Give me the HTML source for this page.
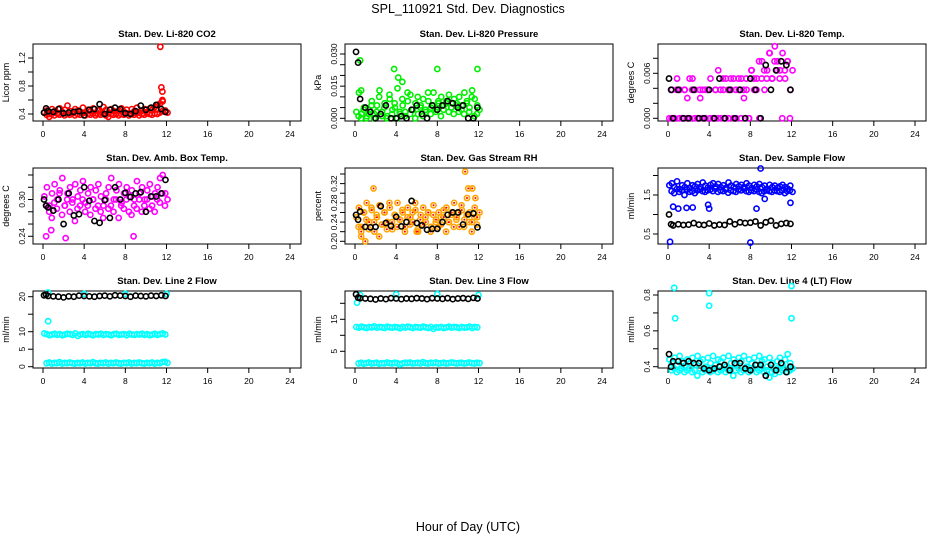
<!DOCTYPE html>
<html><head><meta charset="utf-8"><style>
body{margin:0;background:#fff}
svg{display:block;font-family:"Liberation Sans",sans-serif}
</style></head><body>
<svg id="c" width="936" height="540" viewBox="0 0 936 540">
<text x="468" y="13" text-anchor="middle" font-size="12.5">SPL_110921  Std. Dev. Diagnostics</text>
<text x="468" y="531" text-anchor="middle" font-size="12.5">Hour of Day (UTC)</text>
</svg>
<script>
const hC=[0.25,0.5,0.75,1,1.25,1.5,1.75,2,2.25,2.5,2.75,3,3.25,3.5,3.75,4,4.25,4.5,4.75,5,5.25,5.5,5.75,6,6.25,6.5,6.75,7,7.25,7.5,7.75,8,8.25,8.5,8.75,9,9.25,9.5,9.75,10,10.25,10.5,10.75,11,11.25,11.5,11.75,12];
const hK=[0.1,0.3,0.5,1,1.5,2,2.5,3,3.5,4,4.5,5,5.5,6,6.5,7,7.5,8,8.5,9,9.5,10,10.5,11,11.5,11.9];
const xTicks=[0,4,8,12,16,20,24];

const co2A=[0.42,0.45,0.40,0.47,0.44,0.41,0.48,0.43,0.46,0.52,0.44,0.41,0.47,0.45,0.43,0.49,0.42,0.46,0.44,0.48,0.41,0.45,0.43,0.50,0.46,0.42,0.47,0.44,0.40,0.45,0.48,0.43,0.46,0.41,0.47,0.44,0.49,0.42,0.45,0.47,0.43,0.48,0.46,0.50,0.53,0.55,0.58,0.45];
const co2B=[0.39,0.36,0.40,0.38,0.41,0.39,0.40,0.38,0.40,0.39,0.41,0.38,0.40,0.39,0.41,0.38,0.40,0.39,0.41,0.38,0.40,0.39,0.41,0.38,0.36,0.40,0.39,0.41,0.38,0.40,0.39,0.41,0.38,0.40,0.39,0.41,0.38,0.40,0.39,0.41,0.40,0.39,0.41,0.40,0.42,0.44,0.43,0.42];
const co2OutH=[11.4,11.5,11.6,11.6];
const co2OutV=[1.36,0.78,0.72,0.6];
const co2K=[0.42,0.48,0.44,0.43,0.47,0.41,0.42,0.43,0.44,0.38,0.46,0.47,0.54,0.40,0.46,0.49,0.47,0.41,0.40,0.44,0.52,0.46,0.49,0.53,0.47,0.43];

const prA=[0.003,0.012,0.002,0.005,0.001,0.004,0.008,0.002,0.006,0.013,0.003,0.007,0.001,0.009,0.004,0.005,0.014,0.002,0.006,0.003,0.008,0.011,0.004,0.007,0.002,0.006,0.009,0.003,0.008,0.005,0.012,0.004,0.007,0.010,0.006,0.008,0.011,0.005,0.009,0.007,0.010,0.006,0.012,0.008,0.005,0.013,0.009,0.006];
const prB=[0.001,0.0,0.004,0.0,0.002,0.006,0.0,0.003,0.010,0.001,0.005,0.0,0.011,0.002,0.007,0.0,0.003,0.009,0.001,0.012,0.002,0.004,0.0,0.010,0.005,0.001,0.004,0.012,0.002,0.006,0.003,0.008,0.001,0.004,0.007,0.003,0.005,0.002,0.006,0.003,0.004,0.002,0.007,0.003,0.010,0.001,0.002,0.004];
const prOutH=[0.5,0.6,3.8,4.2,4.6,8,11.9];
const prOutV=[0.027,0.013,0.023,0.019,0.017,0.023,0.023];
const prK=[0.031,0.026,0.009,0.005,0.003,0.0,0.002,0.006,0.0,0.0,0.001,0.0,0.004,0.006,0.002,0.0,0.006,0.004,0.006,0.008,0.007,0.005,0.006,0.0,0.0,0.005];

const tA=[0,0.0038,0,0.0053,0.0038,0,0.0038,0.0027,0,0.0053,0.0038,0,0.0027,0.0038,0,0.0038,0.0053,0,0.0038,0.0064,0,0.0038,0.0053,0,0.0038,0.0053,0,0.0038,0.0053,0.0027,0.0038,0,0.0064,0.0038,0.0053,0,0.0076,0.0038,0.0064,0.0087,0.0053,0.0096,0.0076,0.0064,0.0087,0.0053,0.0076,0.0038];
const tB=[0,0,0.0038,0,0,0.0038,0,0.0053,0.0038,0,0,0.0038,0,0.0038,0.0038,0,0,0.0038,0,0.0038,0.0053,0,0.0038,0.0053,0,0.0038,0.0053,0,0.0038,0.0053,0,0.0064,0.0053,0.0038,0.0076,0.0053,0.0064,0.0053,0.0087,0.0053,0.0076,0.0064,0.0053,0,0.0064,0.0076,0,0.0064];
const tOutH=[];
const tOutV=[];
const tK=[0.0053,0.0038,0,0.0038,0,0,0.0038,0,0,0.0038,0,0.0053,0,0.0038,0,0.0038,0,0.0053,0.0038,0,0.0071,0.0038,0.0064,0.0076,0.0071,0.0038];

const bxA=[0.305,0.32,0.29,0.31,0.325,0.30,0.315,0.335,0.29,0.31,0.32,0.30,0.325,0.305,0.315,0.33,0.295,0.31,0.32,0.30,0.315,0.325,0.305,0.29,0.31,0.32,0.335,0.30,0.315,0.325,0.295,0.31,0.32,0.305,0.315,0.30,0.33,0.31,0.32,0.30,0.315,0.325,0.305,0.31,0.32,0.335,0.34,0.31];
const bxB=[0.29,0.28,0.27,0.295,0.285,0.31,0.275,0.29,0.30,0.28,0.295,0.265,0.285,0.29,0.30,0.28,0.29,0.275,0.30,0.285,0.29,0.28,0.27,0.30,0.285,0.29,0.28,0.30,0.27,0.29,0.285,0.30,0.28,0.275,0.29,0.285,0.30,0.28,0.29,0.30,0.285,0.29,0.28,0.30,0.295,0.31,0.29,0.30];
const bxOutH=[0.3,0.8,2.2,8.8];
const bxOutV=[0.24,0.25,0.237,0.24];
const bxK=[0.30,0.29,0.287,0.282,0.30,0.26,0.31,0.274,0.276,0.32,0.298,0.265,0.262,0.299,0.27,0.32,0.3,0.311,0.304,0.31,0.312,0.28,0.305,0.305,0.31,0.332];

const rhA=[0.25,0.27,0.23,0.26,0.28,0.24,0.265,0.22,0.25,0.275,0.235,0.26,0.24,0.27,0.225,0.255,0.28,0.245,0.26,0.23,0.27,0.25,0.24,0.265,0.22,0.255,0.27,0.24,0.26,0.23,0.275,0.245,0.26,0.235,0.25,0.27,0.24,0.26,0.28,0.25,0.23,0.265,0.245,0.29,0.26,0.24,0.27,0.25];
const rhB=[0.23,0.22,0.26,0.245,0.225,0.27,0.24,0.255,0.21,0.235,0.26,0.225,0.28,0.24,0.255,0.23,0.245,0.265,0.22,0.25,0.235,0.26,0.28,0.225,0.245,0.235,0.25,0.26,0.22,0.255,0.24,0.23,0.25,0.265,0.22,0.24,0.255,0.23,0.245,0.26,0.275,0.23,0.255,0.24,0.22,0.25,0.235,0.26];
const rhOutH=[0.6,1,1.8,6,10.7,11,11.4,11.7];
const rhOutV=[0.21,0.20,0.31,0.22,0.345,0.31,0.31,0.29];
const rhK=[0.255,0.245,0.262,0.23,0.229,0.23,0.273,0.238,0.232,0.251,0.231,0.24,0.284,0.238,0.233,0.224,0.226,0.226,0.24,0.255,0.26,0.26,0.235,0.256,0.258,0.229];

const sfA=[1.75,1.8,1.7,1.85,1.65,1.75,1.7,1.8,1.68,1.75,1.72,1.78,1.7,1.82,1.74,1.69,1.76,1.8,1.72,1.78,1.7,1.75,1.68,1.82,1.74,1.7,1.78,1.72,1.76,1.7,1.8,1.74,1.68,1.76,1.72,1.78,1.7,1.74,1.66,1.76,1.7,1.74,1.68,1.72,1.76,1.7,1.66,1.74];
const sfB=[1.6,1.55,1.65,1.58,1.62,1.5,1.64,1.58,1.6,1.55,1.62,1.65,1.6,1.58,1.62,1.64,1.6,1.66,1.58,1.62,1.6,1.64,1.56,1.62,1.6,1.58,1.64,1.62,1.66,1.6,1.58,1.62,1.6,1.64,1.58,1.55,1.6,1.62,1.6,1.58,1.62,1.6,1.58,1.62,1.55,1.6,1.62,1.58];
const sfOutH=[0.2,0.5,1,1.8,2.4,3.9,4.0,8,8.6,9.0,9.4,11.9];
const sfOutV=[0.3,1.2,1.15,1.17,1.18,1.25,1.15,0.28,1.15,2.18,1.4,1.3];
const sfK=[1.0,0.75,0.72,0.75,0.73,0.74,0.78,0.74,0.73,0.77,0.72,0.74,0.73,0.82,0.75,0.8,0.78,0.79,0.82,0.72,0.8,0.84,0.72,0.76,0.78,0.76];

const l2A=[9.5,9.3,9.0,9.2,9.4,9.1,9.3,9.0,9.2,9.4,9.3,9.1,9.5,8.8,9.2,9.3,9.1,9.4,9.2,9.0,9.3,9.2,9.4,9.1,9.3,9.2,9.0,9.3,9.4,9.1,9.2,9.3,9.0,9.4,9.2,9.1,9.3,9.2,9.4,9.1,9.3,9.0,9.2,9.4,9.1,9.3,9.5,9.2];
const l2B=[1.0,1.2,0.9,1.1,1.0,1.3,0.9,1.1,1.0,1.2,1.0,0.9,1.1,1.0,1.2,0.9,1.1,1.0,1.3,1.0,0.9,1.1,1.0,1.2,0.9,1.1,1.0,1.2,1.0,0.9,1.1,1.0,1.2,0.9,1.1,1.0,1.2,1.0,0.9,1.1,1.0,1.2,0.9,1.1,1.0,1.3,1.4,1.1];
const l2OutH=[0.5,0.5,4,8,12];
const l2OutV=[13,21.2,20.8,20.8,20.8];
const l2K=[20.4,20.6,20.2,20.1,20.0,19.8,20.1,20.0,20.3,20.2,20.1,20.0,20.2,20.3,20.1,20.4,20.3,20.2,20.0,20.3,20.2,20.1,20.3,20.2,20.4,20.2];

const l3A=[12.6,12.4,12.7,12.5,12.3,12.6,12.5,12.8,12.4,12.6,12.5,12.3,12.7,12.5,12.4,12.6,12.5,12.2,12.6,12.4,12.7,12.5,12.3,12.6,12.5,12.4,12.7,12.5,12.3,12.6,12.0,12.5,12.4,12.6,12.3,12.5,12.7,12.4,12.6,12.5,12.3,12.6,12.4,12.5,12.7,12.3,12.6,12.5];
const l3B=[1.2,1.4,1.1,1.3,1.5,1.2,1.3,1.4,1.1,1.3,1.2,1.5,1.3,1.2,1.4,1.3,0.9,1.2,1.4,1.3,1.5,1.2,1.3,1.4,1.2,1.6,1.3,1.2,1.4,1.3,1.5,1.2,1.3,1.4,1.2,1.3,1.5,1.4,1.2,1.3,1.4,1.2,1.3,1.5,1.3,1.2,1.4,1.3];
const l3OutH=[0.2,0.5,4,8,12];
const l3OutV=[20.2,22.6,22.8,22.9,22.6];
const l3K=[22.8,21.8,21.6,21.5,21.4,21.2,21.5,21.3,21.6,21.5,21.3,21.5,21.4,21.6,21.5,21.3,21.6,21.5,21.4,21.6,21.3,21.5,21.6,21.4,21.7,21.5];

const l4A=[0.44,0.42,0.45,0.41,0.46,0.43,0.40,0.44,0.42,0.45,0.41,0.46,0.43,0.44,0.40,0.45,0.42,0.46,0.41,0.44,0.43,0.45,0.40,0.46,0.42,0.44,0.41,0.45,0.43,0.46,0.40,0.44,0.42,0.45,0.41,0.46,0.43,0.44,0.40,0.45,0.42,0.36,0.43,0.45,0.41,0.44,0.47,0.42];
const l4B=[0.38,0.39,0.37,0.38,0.39,0.37,0.38,0.39,0.37,0.38,0.35,0.39,0.37,0.38,0.39,0.37,0.38,0.39,0.37,0.38,0.39,0.37,0.38,0.39,0.35,0.38,0.39,0.37,0.38,0.39,0.37,0.38,0.39,0.37,0.38,0.39,0.37,0.38,0.34,0.37,0.38,0.39,0.37,0.38,0.39,0.37,0.38,0.39];
const l4OutH=[0.6,0.7,4,4,12,12];
const l4OutV=[0.84,0.67,0.81,0.74,0.85,0.67];
const l4K=[0.47,0.4,0.43,0.43,0.42,0.43,0.42,0.42,0.39,0.38,0.39,0.40,0.41,0.38,0.42,0.42,0.39,0.38,0.41,0.41,0.35,0.41,0.38,0.42,0.37,0.40];

const NS='http://www.w3.org/2000/svg';
const svg=document.getElementById('c');
function mk(tag,attrs,parent){const e=document.createElementNS(NS,tag);for(const k in attrs)e.setAttribute(k,attrs[k]);(parent||svg).appendChild(e);return e;}

const panels=[
 {id:'co2',title:'Stan. Dev. Li-820 CO2',yl:'Licor ppm',col:0,row:0,v1:0.4,p1:114,v2:1.2,p2:58,ticks:[0.4,0.6,0.8,1.0,1.2],labs:['0.4','','0.8','','1.2'],color:'#ff0000',A:co2A,B:co2B,oh:co2OutH,ov:co2OutV,K:co2K},
 {id:'pressure',title:'Stan. Dev. Li-820 Pressure',yl:'kPa',col:1,row:0,v1:0,p1:118.3,v2:0.03,p2:54,ticks:[0,0.005,0.01,0.015,0.02,0.025,0.03],labs:['0.000','','','0.015','','','0.030'],color:'#00ee00',A:prA,B:prB,oh:prOutH,ov:prOutV,K:prK},
 {id:'temp',title:'Stan. Dev. Li-820 Temp.',yl:'degrees C',col:2,row:0,v1:0,p1:118.3,v2:0.008,p2:58.3,ticks:[0,0.002,0.004,0.006,0.008],labs:['0.000','','','0.006',''],color:'#ff00ff',A:tA,B:tB,oh:tOutH,ov:tOutV,K:tK},
 {id:'box-temp',title:'Stan. Dev. Amb. Box Temp.',yl:'degrees C',col:0,row:1,v1:0.24,p1:236.3,v2:0.34,p2:175,ticks:[0.24,0.26,0.28,0.30,0.32,0.34],labs:['0.24','','','0.30','',''],color:'#ff00ff',A:bxA,B:bxB,oh:bxOutH,ov:bxOutV,K:bxK},
 {id:'rh',title:'Stan. Dev. Gas Stream RH',yl:'percent',col:1,row:1,v1:0.20,p1:241.3,v2:0.34,p2:174,ticks:[0.20,0.22,0.24,0.26,0.28,0.30,0.32,0.34],labs:['0.20','','0.24','','0.28','','0.32',''],color:'#ffa500',dot:'#ff0000',A:rhA,B:rhB,oh:rhOutH,ov:rhOutV,K:rhK},
 {id:'sample-flow',title:'Stan. Dev. Sample Flow',yl:'ml/min',col:2,row:1,v1:0.5,p1:234,v2:1.5,p2:195,ticks:[0.5,1.0,1.5,2.0],labs:['0.5','','1.5',''],color:'#0000ff',A:sfA,B:sfB,oh:sfOutH,ov:sfOutV,K:sfK},
 {id:'line2',title:'Stan. Dev. Line 2 Flow',yl:'ml/min',col:0,row:2,v1:0,p1:366.7,v2:20,p2:296.7,ticks:[0,5,10,15,20],labs:['0','5','10','','20'],color:'#00ffff',A:l2A,B:l2B,oh:l2OutH,ov:l2OutV,K:l2K},
 {id:'line3',title:'Stan. Dev. Line 3 Flow',yl:'ml/min',col:1,row:2,v1:5,p1:351.3,v2:20,p2:303.3,ticks:[5,10,15,20],labs:['5','','15',''],color:'#00ffff',A:l3A,B:l3B,oh:l3OutH,ov:l3OutV,K:l3K},
 {id:'line4',title:'Stan. Dev. Line 4 (LT) Flow',yl:'ml/min',col:2,row:2,v1:0.4,p1:366.7,v2:0.8,p2:295,ticks:[0.4,0.5,0.6,0.7,0.8],labs:['0.4','','0.6','','0.8'],color:'#00ffff',A:l4A,B:l4B,oh:l4OutH,ov:l4OutV,K:l4K}
];
const colL=[33,345,658], rowT=[44,168,291], rowB=[121,244,368], W=268;

panels.forEach(p=>{
  const L=colL[p.col],T=rowT[p.row],B=rowB[p.row];
  const g=mk('g',{});
  
  
  const xs=h=>L+10+h*(247/24);
  const ys=v=>p.p1+(v-p.v1)*(p.p2-p.p1)/(p.v2-p.v1);
  const t=mk('text',{x:L+W/2,y:T-7,'text-anchor':'middle','font-size':'9.5','font-weight':'bold'},g);
  t.textContent=p.title;
  
  
  const yl=mk('text',{x:0,y:0,'text-anchor':'middle','font-size':'9',transform:`translate(${L-24},${(T+B)/2}) rotate(-90)`},g);
  yl.textContent=p.yl;
  
  
  const xa=mk('g',{stroke:'#000','stroke-width':'1'},g);
  
  
  mk('line',{x1:xs(0),x2:xs(24),y1:B,y2:B},xa);
  xTicks.forEach(v=>{
    mk('line',{x1:xs(v),x2:xs(v),y1:B,y2:B+5},xa);
    const tl=mk('text',{x:xs(v),y:B+16,'text-anchor':'middle','font-size':'8.5',stroke:'none'},g);
    tl.textContent=v;
    
    
  });
  const ya=mk('g',{stroke:'#000','stroke-width':'1'},g);
  
  
  mk('line',{x1:L,x2:L,y1:ys(p.ticks[0]),y2:ys(p.ticks[p.ticks.length-1])},ya);
  p.ticks.forEach((v,i)=>{
    mk('line',{x1:L-5,x2:L,y1:ys(v),y2:ys(v)},ya);
    if(p.labs[i]){
      const tl=mk('text',{x:0,y:0,'text-anchor':'middle','font-size':'8.5',transform:`translate(${L-8},${ys(v)}) rotate(-90)`},g);
      tl.textContent=p.labs[i];
      
      
    }
  });
  const fr=mk('rect',{x:L,y:T,width:W,height:B-T,fill:'none',stroke:'#000','stroke-width':'1'},g);
  
  
  const sc=mk('g',{fill:'none','stroke-width':'1.6'},g);
  
  
  function pt(h,v,c){
    const cc=mk('circle',{cx:xs(h),cy:ys(v),r:2.6,stroke:c},sc);
    
    
    if(p.dot&&c!=='#000'){mk('circle',{cx:xs(h),cy:ys(v),r:1,fill:p.dot,stroke:'none'},sc);}
  }
  p.B.forEach((v,i)=>pt(hC[i]+0.1,v,p.color));
  p.A.forEach((v,i)=>pt(hC[i]-0.12,v,p.color));
  p.oh.forEach((h,i)=>pt(h,p.ov[i],p.color));
  p.K.forEach((v,i)=>pt(hK[i],v,'#000'));
});
</script>
</body></html>
